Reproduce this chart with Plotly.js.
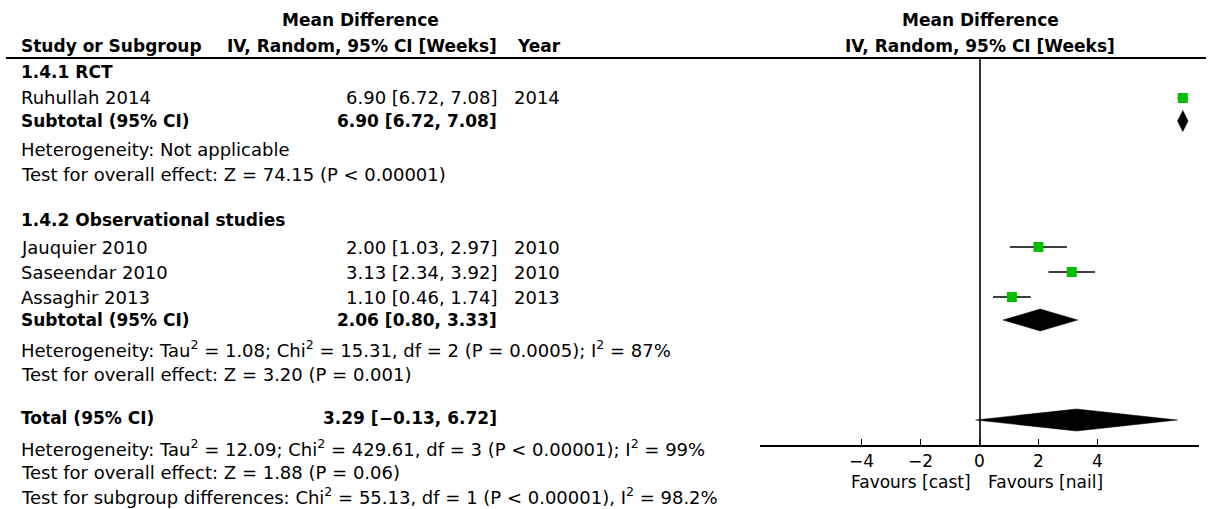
<!DOCTYPE html>
<html><head><meta charset="utf-8">
<script src="https://cdn.plot.ly/plotly-3.0.1.min.js"></script>
<style>html,body{margin:0;padding:0;background:#fff;}#chart{width:1208px;height:509px;}</style>
</head><body><div id="chart"></div>
<script>
// ---- data ----
const studyNames = ["Ruhullah 2014", "Jauquier 2010", "Saseendar 2010", "Assaghir 2013"];
const studyYears = ["2014", "2010", "2010", "2013"];
const studyMD = [6.90, 2.00, 3.13, 1.10];
const studyLo = [6.72, 1.03, 2.34, 0.46];
const studyHi = [7.08, 2.97, 3.92, 1.74];
const pooledNames = ["Subtotal (95% CI)", "Subtotal (95% CI)", "Total (95% CI)"];
const pooledMD = [6.90, 2.06, 3.29];
const pooledLo = [6.72, 0.80, -0.13];
const pooledHi = [7.08, 3.33, 6.72];
const subgroupTitles = ["1.4.1 RCT", "1.4.2 Observational studies"];
const statLines = [
  "Heterogeneity: Not applicable",
  "Test for overall effect: Z = 74.15 (P < 0.00001)",
  "Heterogeneity: Tau<sup>2</sup> = 1.08; Chi<sup>2</sup> = 15.31, df = 2 (P = 0.0005); I<sup>2</sup> = 87%",
  "Test for overall effect: Z = 3.20 (P = 0.001)",
  "Heterogeneity: Tau<sup>2</sup> = 12.09; Chi<sup>2</sup> = 429.61, df = 3 (P < 0.00001); I<sup>2</sup> = 99%",
  "Test for overall effect: Z = 1.88 (P = 0.06)",
  "Test for subgroup differences: Chi<sup>2</sup> = 55.13, df = 1 (P < 0.00001), I<sup>2</sup> = 98.2%"
];
const xTickVals = [-4, -2, 0, 2, 4];
const favourLabels = ["Favours [cast]", "Favours [nail]"];
const headerTexts = ["Study or Subgroup", "Mean Difference", "IV, Random, 95% CI [Weeks]", "Year"];

// ---- layout (pixel rows) ----
const W = 1208, H = 509;
const studyRowY = [98, 247, 272, 297];
const pooledRowY = [121, 320, 420];
const subgroupRowY = [72, 220];
const statRowY = [149, 174, 349, 374, 448, 472, 496];
const FONT = "DejaVu Sans";
const FS_REG = 18, FS_BOLD = 17, FS_AXIS = 17;
const diamondHalf = [10.5, 11, 11];

function fmt(v) { return v.toFixed(2).replace('-', '\u2212'); }
function ci(m, l, h) { return fmt(m) + " [" + fmt(l) + ", " + fmt(h) + "]"; }
function ann(text, x, y, anchor, bold, size) {
  return {xref: 'paper', yref: 'paper', x: x / W, y: 1 - y / H, xanchor: anchor, yanchor: 'middle',
    showarrow: false, text: bold ? '<b>' + text + '</b>' : text,
    font: {family: FONT, size: size || (bold ? FS_BOLD : FS_REG), color: '#000'}};
}

const annotations = [];
// headers
annotations.push(ann(headerTexts[1], 360, 20, 'center', true));
annotations.push(ann(headerTexts[0], 19, 46, 'left', true));
annotations.push(ann(headerTexts[2], 499, 46, 'right', true));
annotations.push(ann(headerTexts[3], 515, 46, 'left', true));
annotations.push(ann(headerTexts[1], 980, 20, 'center', true));
annotations.push(ann(headerTexts[2], 980, 46, 'center', true));
// subgroup titles
subgroupTitles.forEach((t, i) => annotations.push(ann(t, 19, subgroupRowY[i], 'left', true)));
// studies
studyNames.forEach((n, i) => {
  annotations.push(ann(n, 19, studyRowY[i], 'left', false));
  annotations.push(ann(ci(studyMD[i], studyLo[i], studyHi[i]), 499, studyRowY[i], 'right', false));
  annotations.push(ann(studyYears[i], 512, studyRowY[i], 'left', false));
});
// pooled
pooledNames.forEach((n, i) => {
  const y = pooledRowY[i] + (i === 2 ? -2 : 0);
  annotations.push(ann(n, 19, y, 'left', true));
  annotations.push(ann(ci(pooledMD[i], pooledLo[i], pooledHi[i]), 499, y, 'right', true));
});
// stats
statLines.forEach((t, i) => annotations.push(ann(t, 19, statRowY[i], 'left', false)));
// favours
annotations.push(ann(favourLabels[0], 973, 482, 'right', false, FS_AXIS));
annotations.push(ann(favourLabels[1], 986, 482, 'left', false, FS_AXIS));

const traces = [];
// pooled diamonds
pooledMD.forEach((m, i) => {
  const y = pooledRowY[i], h = diamondHalf[i];
  traces.push({
    x: [pooledLo[i], m, pooledHi[i], m, pooledLo[i]],
    y: [y, y - h, y, y + h, y],
    mode: 'lines', fill: 'toself', fillcolor: '#000',
    line: {color: '#000', width: 0.5}, hoverinfo: 'skip', showlegend: false
  });
});
// study squares with CIs
traces.push({
  x: studyMD, y: studyRowY, mode: 'markers', type: 'scatter', showlegend: false,
  marker: {symbol: 'square', size: 10, color: '#00C000', line: {width: 0}},
  error_x: {type: 'data', symmetric: false,
    array: studyMD.map((m, i) => studyHi[i] - m),
    arrayminus: studyMD.map((m, i) => m - studyLo[i]),
    color: '#000', thickness: 1.5, width: 0}
});

const layout = {
  width: W, height: H, autosize: false,
  margin: {l: 0, r: 0, t: 0, b: 0, pad: 0},
  paper_bgcolor: '#fff', plot_bgcolor: 'rgba(0,0,0,0)',
  showlegend: false,
  xaxis: {
    domain: [760 / W, 1199 / W], range: [-7.45, 7.45],
    showgrid: false, zeroline: true, zerolinecolor: '#333', zerolinewidth: 2,
    showline: true, linecolor: '#000', linewidth: 1.5,
    ticks: 'inside', ticklen: 6, tickwidth: 1.5, tickcolor: '#000',
    tickvals: xTickVals, ticktext: xTickVals.map(v => v < 0 ? '\u2212' + Math.abs(v) : String(v)),
    tickfont: {family: FONT, size: FS_AXIS, color: '#000'}, fixedrange: true
  },
  yaxis: {
    domain: [(H - 445) / H, (H - 58) / H], range: [445, 58],
    showgrid: false, zeroline: false, showline: false, showticklabels: false, ticks: '', fixedrange: true
  },
  shapes: [
    {type: 'line', xref: 'paper', yref: 'paper', x0: 6 / W, x1: 1206 / W, y0: 1 - 58 / H, y1: 1 - 58 / H,
     line: {color: '#000', width: 2}}
  ],
  annotations: annotations
};

Plotly.newPlot('chart', traces, layout, {displayModeBar: false, staticPlot: true});
</script>
</body></html>
